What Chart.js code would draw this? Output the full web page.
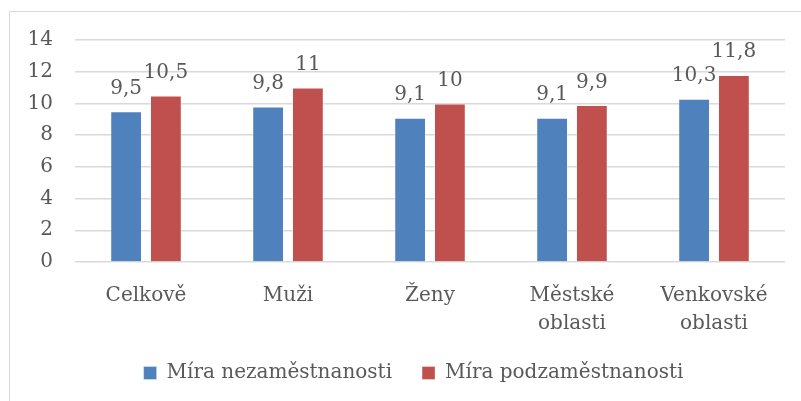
<!DOCTYPE html>
<html>
<head>
<meta charset="utf-8">
<script src="https://cdn.jsdelivr.net/npm/chart.js@4/dist/chart.umd.min.js"></script>
<style>
html,body{margin:0;padding:0;background:#fff;}
#wrap{width:801px;height:401px;position:relative;}
</style>
</head>
<body>
<div id="wrap"><canvas id="c" width="801" height="401"></canvas></div>
<script>
const categories = ["Celkově", "Muži", "Ženy", ["Městské", "oblasti"], ["Venkovské", "oblasti"]];
const unemployment = [9.5, 9.8, 9.1, 9.1, 10.3];
const underemployment = [10.5, 11, 10, 9.9, 11.8];
const seriesNames = ["Míra nezaměstnanosti", "Míra podzaměstnanosti"];
const yTicks = [0, 2, 4, 6, 8, 10, 12, 14];

const FONT = "'DejaVu Serif', serif";
const TXT = "#595959";

const frame = {
  id: 'frame',
  beforeDraw(chart) {
    const ctx = chart.ctx;
    ctx.save();
    ctx.fillStyle = '#fff';
    ctx.fillRect(0, 0, chart.width, chart.height);
    ctx.strokeStyle = '#d9d9d9';
    ctx.lineWidth = 1;
    ctx.beginPath();
    ctx.moveTo(9.5, 401);
    ctx.lineTo(9.5, 11.5);
    ctx.lineTo(801, 11.5);
    ctx.stroke();
    ctx.restore();
  }
};

const valueLabels = {
  id: 'valueLabels',
  afterDatasetsDraw(chart) {
    const ctx = chart.ctx;
    ctx.save();
    ctx.font = "20px " + FONT;
    ctx.fillStyle = TXT;
    ctx.textAlign = 'center';
    ctx.textBaseline = 'alphabetic';
    chart.data.datasets.forEach((ds, i) => {
      const meta = chart.getDatasetMeta(i);
      meta.data.forEach((el, j) => {
        const txt = String(ds.data[j]).replace('.', ',');
        ctx.fillText(txt, el.x, el.y - 17.5);
      });
    });
    ctx.restore();
  }
};

new Chart(document.getElementById('c'), {
  type: 'bar',
  data: {
    labels: categories,
    datasets: [
      { label: seriesNames[0], data: unemployment, backgroundColor: '#4f81bd', borderColor: 'rgba(255,255,255,0.35)', borderWidth: 1, barPercentage: 0.8, categoryPercentage: 0.56 },
      { label: seriesNames[1], data: underemployment, backgroundColor: '#c0504d', borderColor: 'rgba(255,255,255,0.35)', borderWidth: 1, barPercentage: 0.8, categoryPercentage: 0.56 }
    ]
  },
  options: {
    responsive: false,
    animation: false,
    layout: { padding: { left: 26, right: 0, top: 40, bottom: 8 } },
    plugins: {
      tooltip: { enabled: false },
      legend: {
        position: 'bottom',
        labels: {
          boxWidth: 13, boxHeight: 13, padding: 30,
          color: TXT, font: { family: FONT, size: 20 }
        }
      }
    },
    scales: {
      x: {
        grid: { display: false, drawTicks: false },
        border: { display: false },
        ticks: { color: TXT, font: { family: FONT, size: 20, lineHeight: 1.4 }, padding: 20, maxRotation: 0, autoSkip: false },
        afterFit(s) { s.height = 71; }
      },
      y: {
        min: 0, max: 14,
        afterBuildTicks(s) { s.ticks = yTicks.map(v => ({ value: v })); },
        grid: { color: '#d9d9d9', lineWidth: 1.5, drawTicks: false },
        border: { display: false },
        ticks: { color: TXT, font: { family: FONT, size: 20 }, padding: 22 },
        afterFit(s) { s.width = 49; }
      },
      y2: {
        position: 'right',
        min: 0, max: 14,
        grid: { display: false, drawTicks: false },
        border: { display: false },
        ticks: { display: false },
        afterFit(s) { s.width = 16; }
      }
    }
  },
  plugins: [frame, valueLabels]
});
</script>
</body>
</html>
